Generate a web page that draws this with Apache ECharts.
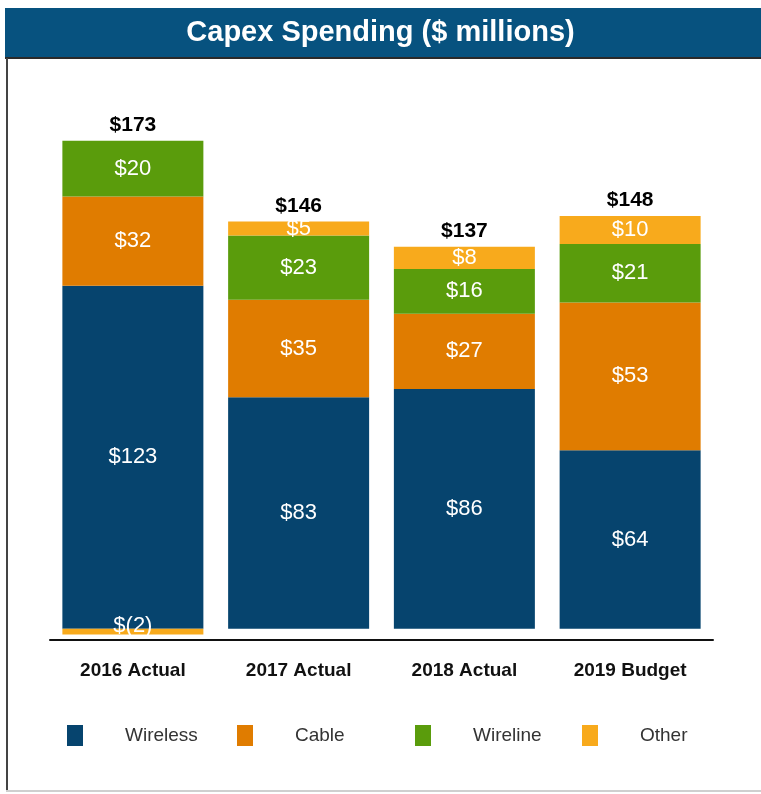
<!DOCTYPE html>
<html>
<head>
<meta charset="utf-8">
<script src="https://cdn.jsdelivr.net/npm/echarts@6/dist/echarts.min.js"></script>
<style>
html,body{margin:0;padding:0;background:#fff;}
#chart{width:761px;height:794px;}
</style>
</head>
<body>
<div id="chart"></div>
<script>
var categories = ['2016 Actual', '2017 Actual', '2018 Actual', '2019 Budget'];
var wireless = [123, 83, 86, 64];
var cable = [32, 35, 27, 53];
var wireline = [20, 23, 16, 21];
var other = [-2, 5, 8, 10];
var totals = [173, 146, 137, 148];
var seriesNames = ['Wireless', 'Cable', 'Wireline', 'Other'];
var colors = ['#06446e', '#e07c00', '#5a9c0c', '#f8aa1c'];

var seriesData = [wireless, cable, wireline, other];
// top of the positive stack for placing totals
var posTop = categories.map(function (c, i) {
  var s = 0;
  seriesData.forEach(function (arr) { if (arr[i] > 0) s += arr[i]; });
  return s;
});

function fmt(v) {
  return v < 0 ? '$(' + Math.abs(v) + ')' : '$' + v;
}

var series = seriesData.map(function (arr, k) {
  return {
    name: seriesNames[k],
    type: 'bar',
    stack: 'total',
    barWidth: 141,
    data: arr,
    itemStyle: { color: colors[k] },
    label: {
      show: true,
      position: 'inside',
      color: '#ffffff',
      fontFamily: 'Liberation Sans, Arial, sans-serif',
      fontSize: 22,
      formatter: function (p) { return fmt(p.value); }
    },
    labelLayout: k === 3 ? function (params) {
      return params.dataIndex === 0 ? { dy: -6 } : {};
    } : undefined
  };
});

series.push({
  name: 'Total',
  type: 'scatter',
  data: posTop,
  symbolSize: 0,
  silent: true,
  itemStyle: { opacity: 1, color: '#000' },
  label: {
    show: true,
    position: 'top',
    distance: 5,
    color: '#000',
    fontWeight: 'bold',
    fontFamily: 'Liberation Sans, Arial, sans-serif',
    fontSize: 21,
    formatter: function (p) { return '$' + totals[p.dataIndex]; }
  }
});

var legendLefts = [62, 232, 410, 577];
var legends = seriesNames.map(function (n, k) {
  return {
    data: [n],
    left: legendLefts[k],
    top: 720,
    itemWidth: 16,
    itemHeight: 21,
    icon: 'rect',
    selectedMode: false,
    textStyle: {
      color: '#333',
      fontSize: 19,
      fontFamily: 'Liberation Sans, Arial, sans-serif',
      padding: [0, 0, 0, 37]
    }
  };
});

var chart = echarts.init(document.getElementById('chart'));
chart.setOption({
  animation: false,
  backgroundColor: '#ffffff',
  graphic: [
    { type: 'rect', shape: { x: 5, y: 8, width: 756, height: 50 }, style: { fill: '#07527f' }, z: 10 },
    { type: 'rect', shape: { x: 5, y: 57, width: 756, height: 2 }, style: { fill: '#2a2a2a' }, z: 10 },
    { type: 'rect', shape: { x: 6, y: 58, width: 2, height: 734 }, style: { fill: '#444' }, z: 10 },
    { type: 'rect', shape: { x: 6, y: 790, width: 755, height: 2 }, style: { fill: '#cfcfcf' }, z: 10 },
    { type: 'text', left: 'center', top: 18, style: { text: 'Capex Spending ($ millions)', fill: '#ffffff', fontSize: 29, fontWeight: 'bold', fontFamily: 'Liberation Sans, Arial, sans-serif' }, z: 11 }
  ],
  legend: legends,
  grid: { left: 50, right: 48, top: 71, bottom: 154 },
  xAxis: {
    type: 'category',
    data: categories,
    axisLine: { onZero: false, lineStyle: { color: '#111', width: 2 } },
    axisTick: { show: false },
    axisLabel: {
      color: '#111',
      fontWeight: 'bold',
      fontSize: 19,
      margin: 21,
      fontFamily: 'Liberation Sans, Arial, sans-serif'
    }
  },
  yAxis: {
    type: 'value',
    min: -4,
    max: 200,
    show: false,
    splitLine: { show: false }
  },
  series: series
});
</script>
</body>
</html>
